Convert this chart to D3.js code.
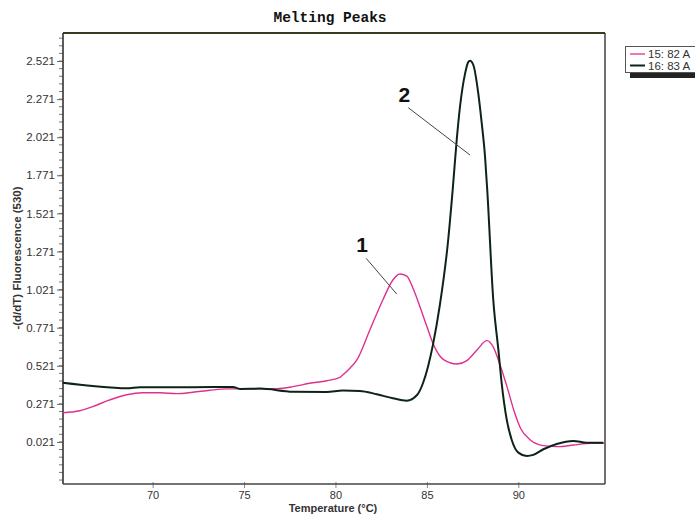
<!DOCTYPE html>
<html>
<head>
<meta charset="utf-8">
<script src="https://cdn.jsdelivr.net/npm/d3@7"></script>
<style>
  body { margin: 0; background: #fff; }
  svg { display: block; }
</style>
</head>
<body>
<svg id="chart" width="695" height="514"></svg>
<script>
// ---- data ----
const seriesNames = ["15: 82 A", "16: 83 A"];
const seriesColors = ["#e0308e", "#0c2416"];
const magentaT = [65.09,66.02,66.73,67.66,68.59,69.47,70.40,71.33,72.20,73.13,74.06,75.87,76.80,77.67,78.60,79.53,80.24,80.40,80.79,81.17,81.88,82.59,83.14,83.52,83.90,84.24,84.62,85.00,85.33,85.71,86.26,86.65,87.19,87.74,88.29,88.62,89.00,89.38,89.75,90.12,90.66,91.37,92.13,93.02,93.95,94.72];
const magentaV = [0.213,0.226,0.253,0.297,0.331,0.344,0.344,0.338,0.347,0.360,0.369,0.369,0.371,0.384,0.406,0.423,0.445,0.461,0.505,0.559,0.756,0.953,1.084,1.123,1.110,1.030,0.909,0.778,0.669,0.585,0.541,0.533,0.555,0.625,0.686,0.646,0.526,0.384,0.231,0.111,0.034,-0.003,-0.010,0.001,0.012,0.012];
const blackT = [65.09,66.73,68.59,69.31,72.20,74.39,74.78,75.87,77.67,79.53,80.40,81.33,82.26,83.14,83.90,84.46,84.79,85.06,85.33,85.71,86.15,86.41,86.63,86.81,87.09,87.26,87.36,87.54,87.81,88.00,88.18,88.30,88.63,88.91,89.09,89.37,89.64,90.00,90.46,90.82,91.37,92.10,93.01,93.74,94.65];
const blackV = [0.410,0.388,0.373,0.380,0.380,0.382,0.369,0.371,0.351,0.349,0.358,0.356,0.334,0.308,0.292,0.329,0.408,0.515,0.658,0.920,1.330,1.675,2.003,2.221,2.440,2.514,2.523,2.495,2.309,2.112,1.893,1.675,0.953,0.625,0.406,0.165,0.034,-0.049,-0.071,-0.064,-0.027,0.008,0.028,0.016,0.016];
const xTicks = [70, 75, 80, 85, 90];
const yTicks = [0.021,0.271,0.521,0.771,1.021,1.271,1.521,1.771,2.021,2.271,2.521];
const annLabels = ["1", "2"];
const annFrom = [[81.68, 1.226], [83.98, 2.215]];
const annTo = [[83.35, 0.992], [87.36, 1.904]];

// ---- layout ----
const L = 63, R = 605, T = 33, B = 484;
const svg = d3.select("#chart");
const x = d3.scaleLinear().domain([65.1, 94.74]).range([L, R]);
const y = d3.scaleLinear().domain([-0.255, 2.705]).range([B, T]);

// title
svg.append("text").attr("x", 330).attr("y", 22)
  .attr("text-anchor", "middle")
  .style("font-family", "'Liberation Mono', 'DejaVu Sans Mono', monospace")
  .style("font-weight", "bold").style("font-size", "14.5px").attr("fill", "#111")
  .text("Melting Peaks");

// y axis
const minorY = d3.range(-0.229, 2.70, 0.05);
svg.append("g").selectAll("line").data(minorY).join("line")
  .attr("x1", L - 4).attr("x2", L).attr("y1", d => y(d)).attr("y2", d => y(d))
  .attr("stroke", "#777").attr("stroke-width", 1);
const yAxis = d3.axisLeft(y).tickValues(yTicks).tickFormat(d3.format(".3f")).tickSize(6).tickPadding(2);
const gy = svg.append("g").attr("transform", `translate(${L},0)`).call(yAxis);
gy.select(".domain").remove();
gy.selectAll(".tick line").attr("stroke", "#666");
gy.selectAll(".tick text").attr("fill", "#333")
  .style("font-family", "'Liberation Sans', Arial, sans-serif").style("font-size", "11.5px");

// x axis
const xAxis = d3.axisBottom(x).tickValues(xTicks).tickSize(4).tickPadding(3);
const gx = svg.append("g").attr("transform", `translate(0,${B})`).call(xAxis);
gx.select(".domain").remove();
gx.selectAll(".tick line").attr("stroke", "#888").attr("y1", -2);
gx.selectAll(".tick text").attr("fill", "#333")
  .style("font-family", "'Liberation Sans', Arial, sans-serif").style("font-size", "11px");

// frame
svg.append("line").attr("x1", L).attr("x2", R).attr("y1", T).attr("y2", T)
  .attr("stroke", "#3a3a20").attr("stroke-width", 2);
svg.append("line").attr("x1", L).attr("x2", L).attr("y1", T).attr("y2", B)
  .attr("stroke", "#333").attr("stroke-width", 1.6);
svg.append("line").attr("x1", R).attr("x2", R).attr("y1", T).attr("y2", B)
  .attr("stroke", "#333").attr("stroke-width", 1.4);
svg.append("line").attr("x1", L).attr("x2", R).attr("y1", B).attr("y2", B)
  .attr("stroke", "#444").attr("stroke-width", 1.6);

// axis titles
svg.append("text").attr("x", 333).attr("y", 512).attr("text-anchor", "middle")
  .style("font-family", "'Liberation Sans', Arial, sans-serif").style("font-weight", "bold")
  .style("font-size", "11px").attr("fill", "#333").text("Temperature (°C)");
svg.append("text").attr("transform", "translate(21,258) rotate(-90)").attr("text-anchor", "middle")
  .style("font-family", "'Liberation Sans', Arial, sans-serif").style("font-weight", "bold")
  .style("font-size", "11.5px").attr("fill", "#333").text("-(d/dT) Fluorescence (530)");

// curves
const line = d3.line().x(d => x(d[0])).y(d => y(d[1])).curve(d3.curveMonotoneX);
const mData = magentaT.map((t, i) => [t, magentaV[i]]);
const kData = blackT.map((t, i) => [t, blackV[i]]);
svg.append("path").datum(mData).attr("d", line).attr("fill", "none")
  .attr("stroke", seriesColors[0]).attr("stroke-width", 1.4);
svg.append("path").datum(kData).attr("d", line).attr("fill", "none")
  .attr("stroke", seriesColors[1]).attr("stroke-width", 2);

// annotations
annLabels.forEach((lab, i) => {
  svg.append("line")
    .attr("x1", x(annFrom[i][0])).attr("y1", y(annFrom[i][1]))
    .attr("x2", x(annTo[i][0])).attr("y2", y(annTo[i][1]))
    .attr("stroke", "#444").attr("stroke-width", 1);
  svg.append("text")
    .attr("x", x(annFrom[i][0]) - 4).attr("y", y(annFrom[i][1]) - 6)
    .attr("text-anchor", "middle")
    .style("font-family", "'Liberation Sans', Arial, sans-serif").style("font-weight", "bold")
    .style("font-size", "21px").attr("fill", "#111").text(lab);
});

// legend
const lg = svg.append("g");
lg.append("rect").attr("x", 630).attr("y", 72).attr("width", 70).attr("height", 6).attr("fill", "#222");
lg.append("rect").attr("x", 625.5).attr("y", 46.5).attr("width", 75).attr("height", 26)
  .attr("fill", "#fff").attr("stroke", "#555").attr("stroke-width", 1);
seriesNames.forEach((n, i) => {
  const yy = 54 + i * 11.5;
  lg.append("line").attr("x1", 630).attr("x2", 645).attr("y1", yy).attr("y2", yy)
    .attr("stroke", seriesColors[i]).attr("stroke-width", i === 0 ? 1.3 : 2);
  lg.append("text").attr("x", 648).attr("y", yy + 4)
    .style("font-family", "'Liberation Sans', Arial, sans-serif").style("font-size", "11.5px")
    .attr("fill", "#333").text(n);
});
</script>
</body>
</html>
